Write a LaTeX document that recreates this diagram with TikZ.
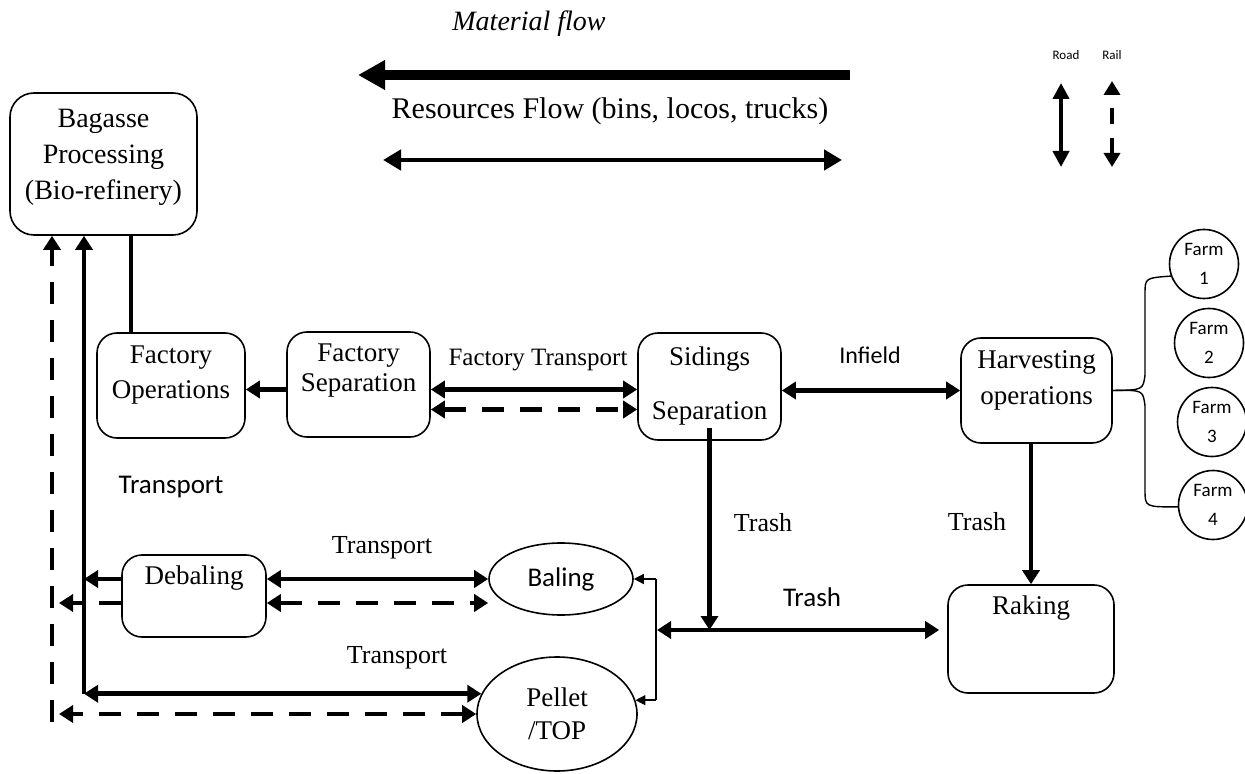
\documentclass[tikz,border=0pt]{standalone}
\usepackage{fontspec}
\setmainfont{Liberation Serif}
\newfontfamily\calib{Carlito}
\usetikzlibrary{arrows.meta,shapes}
\tikzstyle{box}=[draw,rounded corners=10pt,line width=0.8pt,inner sep=0pt,align=center,font=\fontsize{13.5pt}{17.5pt}\selectfont]
\tikzstyle{blob}=[draw,ellipse,line width=0.8pt,inner sep=0pt,align=center]
\tikzstyle{farm}=[draw,circle,line width=0.8pt,inner sep=0pt,minimum size=34.5pt,align=center,font=\calib\fontsize{9.5pt}{14.5pt}\selectfont]
\tikzstyle{edge} = [draw,line width=2.3pt,>={Triangle[length=7pt,width=8.5pt]}]
\tikzstyle{railedge} = [edge,dash pattern=on 11pt off 8pt]
\tikzstyle{thinedge} = [draw,line width=0.7pt,>={Triangle[length=5pt,width=5pt]}]
\tikzstyle{lbl} = [font=\fontsize{13pt}{15pt}\selectfont]
\tikzstyle{slbl} = [font=\calib\fontsize{13.5pt}{16pt}\selectfont]

\begin{document}
\begin{tikzpicture}[x=0.5pt,y=-0.5pt]
    \useasboundingbox (0,0) rectangle (1245,774);

    % Legend on top
    \node[font=\itshape\fontsize{14pt}{16pt}\selectfont] (mflow) at (529,24) {Material flow};
    \coordinate (mfa) at (850,75);
    \coordinate (mfb) at (358,75);
    \draw[line width=5pt,-{Triangle[length=13.5pt,width=14pt]}] (mfa) -- (mfb);
    \node[font=\fontsize{15pt}{17pt}\selectfont] (rflow) at (610,111) {Resources Flow (bins, locos, trucks)};
    \coordinate (rfa) at (383,160);
    \coordinate (rfb) at (842,160);
    \draw[line width=2.4pt,{Triangle[length=9pt,width=10pt]}-{Triangle[length=9pt,width=10pt]}] (rfa) -- (rfb);
    \node[font=\calib\fontsize{6.5pt}{7pt}\selectfont] (roadlbl) at (1066,55) {Road};
    \node[font=\calib\fontsize{6.5pt}{7pt}\selectfont] (raillbl) at (1112,55) {Rail};
    \coordinate (rda) at (1061,83);
    \coordinate (rdb) at (1061,167);
    \coordinate (rla) at (1112,81);
    \coordinate (rlb) at (1112,167);
    \draw[edge,<->,>={Triangle[length=8pt,width=8pt]}] (rda) -- (rdb);
    \draw[edge,<->,>={Triangle[length=7pt,width=8pt]},dash pattern=on 8pt off 7pt] (rlb) -- (rla);

    % Then the boxes
    \node[box,rounded corners=12pt,minimum width=93.5pt,text height=53.5pt,text depth=17.5pt,font=\fontsize{14pt}{18pt}\selectfont]
        (Bagasse) at (103.5,164) {Bagasse\\Processing\\(Bio-refinery)};
    \node[box,minimum width=74pt,text height=33pt,text depth=19.5pt] (FacOps) at (171,385.5) {Factory\\Operations};
    \node[box,minimum width=71.5pt,text height=30pt,text depth=22.5pt,font=\fontsize{13.5pt}{15pt}\selectfont]
        (FacSep) at (358.5,384.5) {Factory\\Separation};
    \node[box,minimum width=71.5pt,text height=43pt,text depth=10.5pt] (Sid) at (709.5,386.5) {Sidings\\[9.5pt]Separation};
    \node[box,minimum width=75.5pt,text height=33pt,text depth=19.5pt] (Harv) at (1036.5,390.5) {Harvesting\\operations};
    \node[box,minimum width=72pt,text height=14.5pt,text depth=26.5pt] (Debal) at (194,596) {Debaling};
    \node[box,minimum width=83pt,text height=14.5pt,text depth=39.5pt] (Rak) at (1031,639) {Raking};
    \node[blob,minimum width=72pt,minimum height=36pt,font=\calib\fontsize{13.5pt}{16pt}\selectfont] (Baling) at (561,579) {Baling};
    \node[blob,minimum width=80pt,minimum height=57pt,font=\fontsize{13.5pt}{16.5pt}\selectfont] (Pellet) at (557,714) {Pellet\\/TOP};

    % Farms
    \foreach \pos/\name/\num in {{(1204,264)/Farm1/1}, {(1209,343)/Farm2/2}, {(1212,422)/Farm3/3}, {(1213,505)/Farm4/4}}
        \node[farm] (\name) at \pos {Farm\\\num};

    % Labels on the flows
    \node[font=\fontsize{12.5pt}{14pt}\selectfont] (ftlbl) at (538,360) {Factory Transport};
    \node[font=\calib\fontsize{12pt}{14pt}\selectfont] (inlbl) at (870,355) {Infield};
    \node[slbl] (trlbl) at (171,487) {Transport};
    \node[lbl] (tr1) at (382,548) {Transport};
    \node[lbl] (tr2) at (397,658) {Transport};
    \node[lbl] (ts1) at (763,523) {Trash};
    \node[lbl] (ts2) at (977,522) {Trash};
    \node[slbl] (ts3) at (812,597) {Trash};

    % Connect the boxes
    \coordinate (bg) at (131,0);
    \coordinate (road) at (84,0);
    \coordinate (rail) at (52,0);
    \coordinate (railend) at (59,0);
    \coordinate (railfoot) at (52,722);
    \path[edge] (bg |- Bagasse.south) -- (bg |- FacOps.north);
    \path[edge,->] (road |- Pellet.165) -- (road |- Bagasse.south);
    \path[railedge,->] (railfoot) -- (railfoot |- Bagasse.south);
    \path[edge,<->] (road |- Pellet.165) -- (Pellet.165);
    \path[railedge,<->] (Pellet.west) -- (railend |- Pellet.west);

    \path[edge,<->] (Debal.east |- Baling.west) -- (Baling.west);
    \path[edge,->] (Debal.west |- Baling.west) -- (road |- Baling.west);
    \coordinate (dl) at ([yshift=-12pt]Baling.west);
    \path[railedge,<->] (Debal.east |- dl) -- (dl);
    \path[railedge,->] (Debal.west |- dl) -- (railend |- dl);

    \coordinate (ft) at ([yshift=-2.5pt]FacSep.east);
    \coordinate (ftr) at ([yshift=-12.5pt]FacSep.east);
    \path[edge,<->] (ft) -- (ft -| Sid.west);
    \path[railedge,<->] (ftr) -- (ftr -| Sid.west);
    \path[edge,->] (FacSep.west |- ft) -- (FacOps.east |- ft);
    \path[edge,<->] (Sid.east |- Harv.center) -- (Harv.west);

    \coordinate (tj) at (657,630);
    \path[edge,->] ([yshift=6.5pt]Sid.south) -- (Sid.south |- tj);
    \path[edge,<->,shorten >=4pt] (tj) -- (tj -| Rak.west);
    \path[edge,->] (Rak.north |- Harv.south) -- (Rak.north);

    \coordinate (tl) at (656,0);
    \path[thinedge,->] (tl |- Baling.east) -- (Baling.east);
    \path[thinedge] (tl |- Baling.east) -- (tl |- Pellet.10);
    \path[thinedge,->] (tl |- Pellet.10) -- (Pellet.10);

    % Brace to the farms
    \path[thinedge] (Harv.east) .. controls (1143,390) .. (1145,375) -- (1145,294) .. controls (1145,278) .. (Farm1.200);
    \path[thinedge] (Harv.east) .. controls (1143,390) .. (1145,406) -- (1145,490) .. controls (1145,507) .. (Farm4.183);
\end{tikzpicture}
\end{document}
